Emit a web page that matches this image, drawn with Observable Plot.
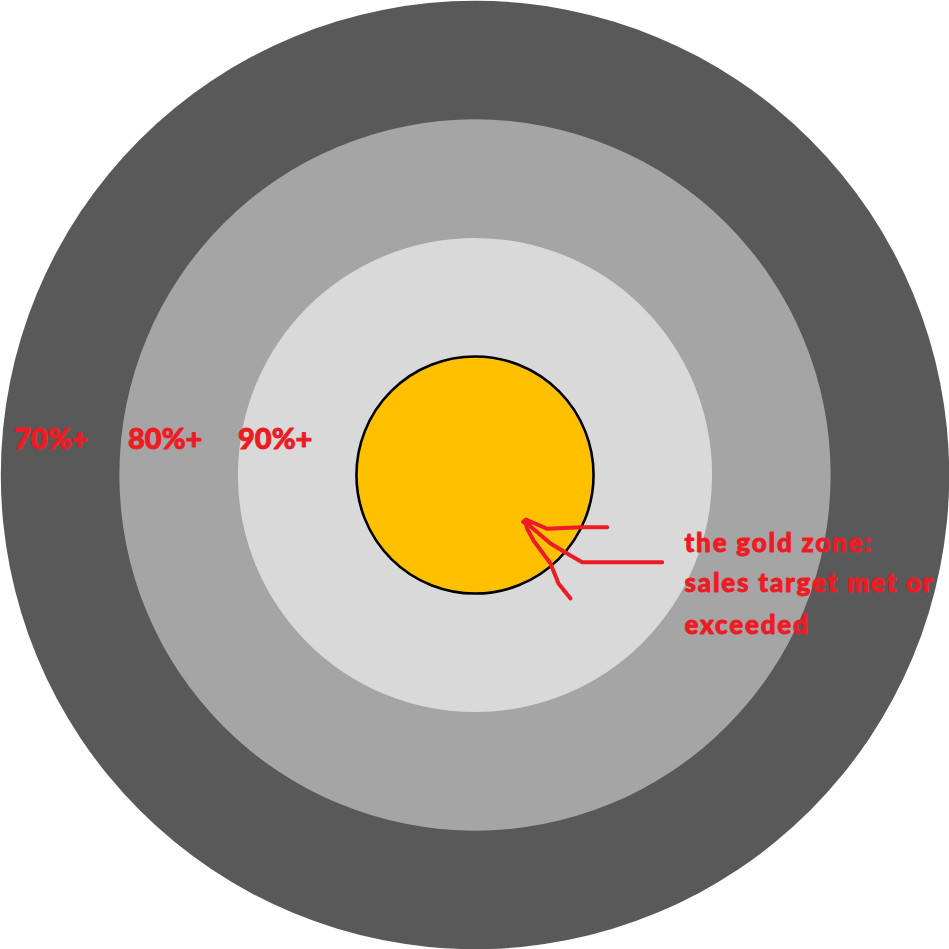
<!DOCTYPE html>
<html>
<head>
<meta charset="utf-8">
<script src="https://cdn.jsdelivr.net/npm/d3@7"></script>
<script src="https://cdn.jsdelivr.net/npm/@observablehq/plot@0.6"></script>
<style>
  html, body { margin: 0; padding: 0; background: #ffffff; }
  #chart svg { display: block; }
  .note-text text { letter-spacing: 1.8px; }
</style>
</head>
<body>
<div id="chart"></div>
<script>
// Rings (outermost first) and their band radius (in ring units)
const ringNames = ["70%+", "80%+", "90%+", "gold"];
const ringRadius = [4, 3, 2, 1];
const ringColors = ["#595959", "#a5a5a5", "#d9d9d9", "#ffc000"];

// Ring labels (positions relative to the centre, y downward)
const labelText = ["70%+", "80%+", "90%+"];
const labelX = [-461, -347, -237];
const labelY = [-35, -35, -35];

// Annotation
const noteLines = ["the gold zone:", "sales target met or", "exceeded"];
const noteX = [209.5, 209.5, 209.5];
const noteY = [68.7, 108.2, 150.2];

// Hand-drawn arrow strokes (relative to the centre, y downward)
const arrowStroke = ["a","a","a","a","a","a", "b","b","b","b","b","b", "c","c","c","c","c","c"];
const arrowX = [55, 48, 51, 72.2, 105.5, 132.2,   50.5, 62, 75.5, 95.5, 107.2, 187.2,   50, 52.2, 58.5, 75.5, 83.5, 95.5];
const arrowY = [50, 47, 44.5, 53.8, 52.2, 52.2,   47.2, 57, 68.5, 80.5, 87.2, 87.2,   46, 53.8, 65.5, 88.5, 108.5, 123.5];

const rings = ringNames.map((n, i) => ({name: n, radius: ringRadius[i], color: ringColors[i]}));
const labels = labelText.map((t, i) => ({text: t, x: labelX[i], y: labelY[i]}));
const notes = noteLines.map((t, i) => ({text: t, x: noteX[i], y: noteY[i]}));
const arrow = arrowX.map((x, i) => ({x, y: arrowY[i], z: arrowStroke[i]}));

const red = "#ed1c24";
const font = "Lato, 'Open Sans', sans-serif";

const chart = Plot.plot({
  width: 949,
  height: 949,
  margin: 0,
  x: {domain: [-474.5, 474.5], axis: null},
  y: {domain: [-474.5, 474.5], reverse: true, axis: null},
  r: {type: "linear", domain: [0, 4], range: [0, 474.2]},
  color: {type: "identity"},
  style: {background: "#ffffff"},
  marks: [
    Plot.dot(rings, {x: () => 0, y: () => 0, r: "radius", fill: "color", stroke: null}),
    Plot.dot(rings.filter(d => d.name === "gold"), {x: () => 0, y: () => 0, r: "radius", fill: "none", stroke: "#000000", strokeWidth: 2.6}),
    Plot.text(labels, {x: "x", y: "y", text: "text", textAnchor: "start", fill: red, stroke: red, strokeWidth: 0.9, fontSize: 29, fontWeight: 900, fontFamily: font}),
    Plot.line(arrow, {x: "x", y: "y", z: "z", stroke: red, strokeWidth: 4, strokeLinecap: "round", strokeLinejoin: "round"}),
    Plot.text(notes, {x: "x", y: "y", text: "text", textAnchor: "start", fill: red, stroke: red, strokeWidth: 0.9, fontSize: 26, fontWeight: 900, fontFamily: font, className: "note-text"})
  ]
});
document.getElementById("chart").appendChild(chart);
</script>
</body>
</html>
